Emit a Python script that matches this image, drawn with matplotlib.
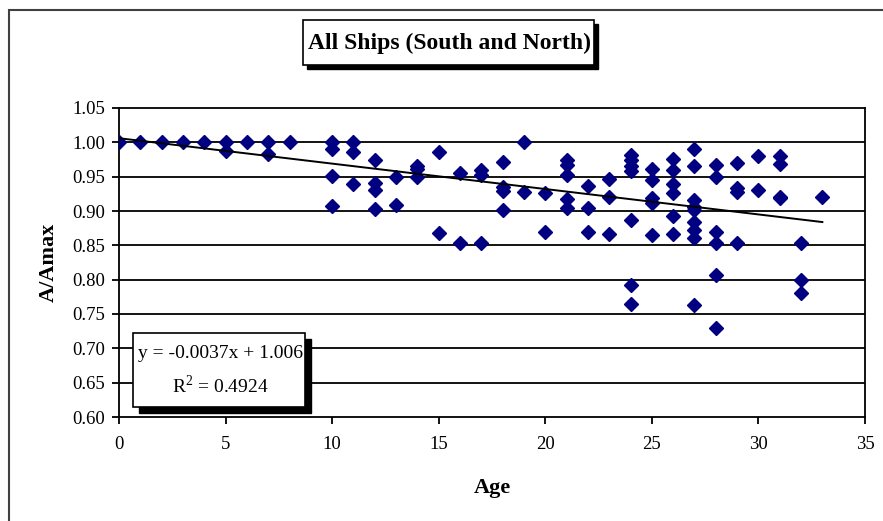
import matplotlib
matplotlib.use('Agg')
import matplotlib.pyplot as plt
from matplotlib.patches import Rectangle

# ship age (years) and A/Amax readings
ages = [0, 1, 2, 3, 4,
        5, 5, 6, 7, 7, 8,
        10, 10, 10, 10, 11, 11, 11,
        12, 12, 12, 12, 13, 13, 14, 14, 14,
        15, 15, 16, 16, 17, 17, 17,
        18, 18, 18, 18, 19, 19, 20, 20,
        21, 21, 21, 21, 21, 22, 22, 22, 23, 23, 23,
        24, 24, 24, 24, 24, 24, 24,
        25, 25, 25, 25, 25,
        26, 26, 26, 26, 26, 26,
        27, 27, 27, 27, 27, 27, 27, 27, 27,
        28, 28, 28, 28, 28, 28,
        29, 29, 29, 29, 30, 30,
        31, 31, 31, 31, 32, 32, 32, 33]
ratio = [1.00, 1.00, 1.00, 1.00, 1.00,
         1.00, 0.987, 1.00, 1.00, 0.983, 1.00,
         1.00, 0.991, 0.951, 0.907, 1.00, 0.986, 0.940,
         0.975, 0.941, 0.930, 0.903, 0.949, 0.909, 0.965, 0.961, 0.950,
         0.986, 0.868, 0.956, 0.854, 0.959, 0.952, 0.854,
         0.972, 0.935, 0.929, 0.902, 1.00, 0.928, 0.926, 0.869,
         0.974, 0.967, 0.952, 0.917, 0.905, 0.937, 0.905, 0.869, 0.947, 0.921, 0.867,
         0.982, 0.975, 0.965, 0.958, 0.887, 0.792, 0.765,
         0.961, 0.945, 0.919, 0.911, 0.865,
         0.976, 0.960, 0.940, 0.926, 0.892, 0.867,
         0.990, 0.966, 0.916, 0.906, 0.901, 0.884, 0.872, 0.860, 0.763,
         0.967, 0.949, 0.870, 0.854, 0.807, 0.729,
         0.970, 0.933, 0.927, 0.854, 0.980, 0.930,
         0.980, 0.969, 0.921, 0.919, 0.854, 0.799, 0.780, 0.921]

slope = -0.0037
intercept = 1.006
trend_x = [0, 33]

x_ticks = [0, 5, 10, 15, 20, 25, 30, 35]
y_ticks = [0.60, 0.65, 0.70, 0.75, 0.80, 0.85, 0.90, 0.95, 1.00, 1.05]

W, H = 883, 521
SERIF = 'Liberation Serif'


def px_rect(x0, y0, x1, y1):
    # pixel box (top-left origin) -> figure fraction (x, y, w, h)
    return x0 / W, 1 - y1 / H, (x1 - x0) / W, (y1 - y0) / H


def shadow_box(fig, x0, y0, x1, y1, off):
    sx, sy, sw, sh = px_rect(x0 + off, y0 + off, x1 + off, y1 + off)
    fig.add_artist(Rectangle((sx, sy), sw, sh, transform=fig.transFigure,
                             facecolor='black', edgecolor='black', zorder=10))
    bx, by, bw, bh = px_rect(x0, y0, x1, y1)
    fig.add_artist(Rectangle((bx, by), bw, bh, transform=fig.transFigure,
                             facecolor='white', edgecolor='black', lw=1.2, zorder=11))


fig = plt.figure(figsize=(W / 100, H / 100), dpi=100)
fig.patch.set_facecolor('white')

# outer chart frame (cut off at right and bottom)
fx, fy, fw, fh = px_rect(9, 10, 900, 540)
fig.add_artist(Rectangle((fx, fy), fw, fh, transform=fig.transFigure,
                         facecolor='none', edgecolor='#404040', lw=1.5, zorder=0))

ax = fig.add_axes(px_rect(119, 108, 865, 417))
ax.set_xlim(0, 35)
ax.set_ylim(0.60, 1.05)
ax.set_xticks(x_ticks)
ax.set_yticks(y_ticks)
ax.set_yticklabels(['%.2f' % v for v in y_ticks])

for v in y_ticks[1:-1]:
    ax.axhline(v, color='black', lw=1.3, zorder=1)

ax.plot(ages, ratio, linestyle='none', marker='D', ms=7,
        color='#000080', markeredgecolor='#000080', zorder=3)
ax.plot(trend_x, [slope * x + intercept for x in trend_x], color='black', lw=1.4, zorder=4)

for s in ax.spines.values():
    s.set_linewidth(1.3)
    s.set_color('black')

ax.tick_params(direction='out', length=5, width=1.3, labelsize=13.5, pad=5)
for lbl in ax.get_xticklabels() + ax.get_yticklabels():
    lbl.set_fontfamily(SERIF)
ax.tick_params(axis='x', pad=9)

ax.set_xlabel('Age', fontfamily=SERIF, fontweight='bold', fontsize=16, labelpad=18)
ax.set_ylabel('A/Amax', fontfamily=SERIF, fontweight='bold', fontsize=16, labelpad=10)

# title box
shadow_box(fig, 303, 20, 594, 65, 4)
fig.text(450 / W, 1 - 43 / H, 'All Ships (South and North)', ha='center', va='center',
         fontfamily=SERIF, fontweight='bold', fontsize=17, zorder=12)

# trend equation box
shadow_box(fig, 133, 333, 305, 407, 6)
fig.text(220 / W, 1 - 353 / H, 'y = -0.0037x + 1.006', ha='center', va='center',
         fontfamily=SERIF, fontsize=14, zorder=12)
fig.text(220 / W, 1 - 386 / H, r'R$^{\mathregular{2}}$ = 0.4924', ha='center', va='center',
         fontfamily=SERIF, fontsize=14, zorder=12)

fig.savefig('out.png', dpi=100)
